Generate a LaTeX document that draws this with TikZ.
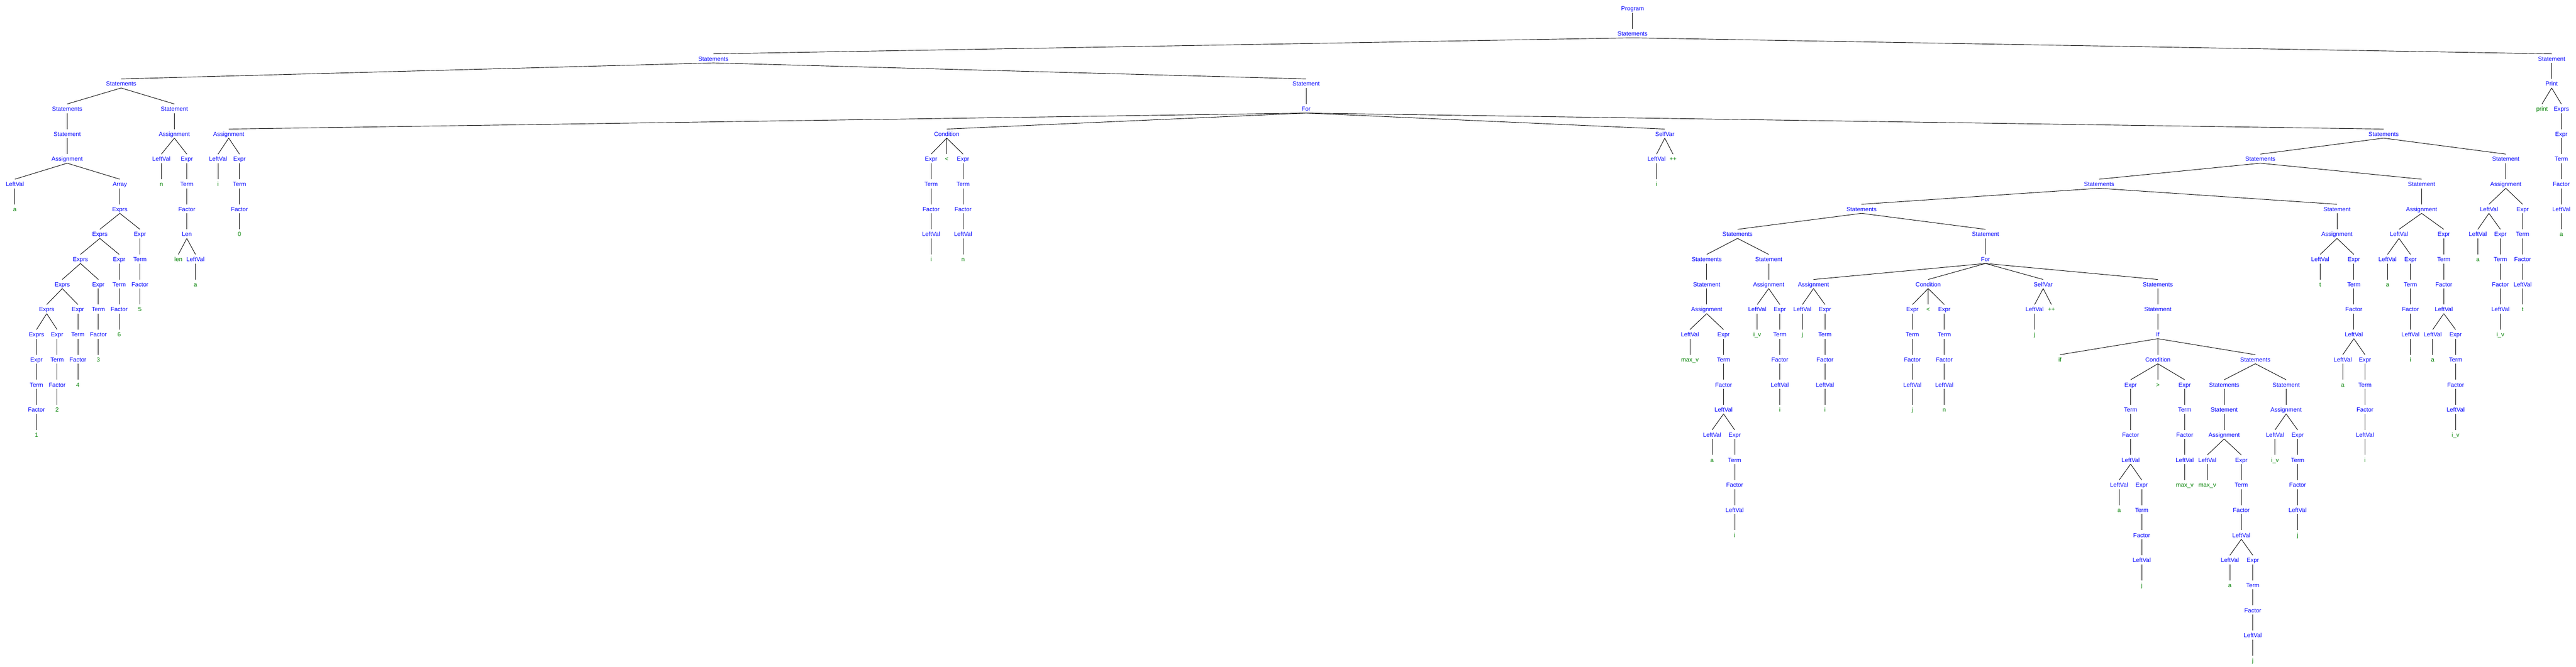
\documentclass[tikz,border=0pt]{standalone}
\usepackage{fontspec}
\setmainfont{Liberation Sans}
\definecolor{leafgreen}{RGB}{0,128,0}
\begin{document}
\begin{tikzpicture}[x=0.02cm, y=-1.4cm, line width=0.75pt,
  ntnode/.style={text=blue, inner sep=0pt, text height=0.38cm, text depth=0.1cm, font=\fontsize{9.45pt}{11pt}\selectfont},
  lfnode/.style={ntnode, text=leafgreen}]
\useasboundingbox (0,-0.3286) rectangle (7189,26.2714);
\node[ntnode] (pid0) at (4556,0){Program};
\node[ntnode] (pid1) at (4556,1){Statements};
\node[ntnode] (pid2) at (1991,2){Statements};
\node[ntnode] (pid3) at (338,3){Statements};
\node[ntnode] (pid4) at (187.5,4){Statements};
\node[ntnode] (pid5) at (187.5,5){Statement};
\node[ntnode] (pid6) at (187.5,6){Assignment};
\node[ntnode] (pid7) at (41.5,7){LeftVal};
\node[lfnode] (pid8) at (41.5,8){a};
\draw[](pid7.south) -- (pid8.north);
\node[ntnode] (pid9) at (334.4,7){Array};
\node[ntnode] (pid10) at (334.4,8){Exprs};
\node[ntnode] (pid11) at (278.6,9){Exprs};
\node[ntnode] (pid12) at (224.6,10){Exprs};
\node[ntnode] (pid13) at (173.7,11){Exprs};
\node[ntnode] (pid14) at (130.4,12){Exprs};
\node[ntnode] (pid15) at (101.8,13){Exprs};
\node[ntnode] (pid16) at (101.8,14){Expr};
\node[ntnode] (pid17) at (101.8,15){Term};
\node[ntnode] (pid18) at (101.8,16){Factor};
\node[lfnode] (pid19) at (101.8,17){1};
\draw[](pid15.south) -- (pid16.north);
\draw[](pid16.south) -- (pid17.north);
\draw[](pid17.south) -- (pid18.north);
\draw[](pid18.south) -- (pid19.north);
\node[ntnode] (pid20) at (159.4,13){Expr};
\node[ntnode] (pid21) at (159.4,14){Term};
\node[ntnode] (pid22) at (159.4,15){Factor};
\node[lfnode] (pid23) at (159.4,16){2};
\draw[](pid20.south) -- (pid21.north);
\draw[](pid21.south) -- (pid22.north);
\draw[](pid22.south) -- (pid23.north);
\draw[](pid14.south) -- (pid15.north);
\draw[](pid14.south) -- (pid20.north);
\node[ntnode] (pid24) at (217.4,12){Expr};
\node[ntnode] (pid25) at (217.4,13){Term};
\node[ntnode] (pid26) at (217.4,14){Factor};
\node[lfnode] (pid27) at (217.4,15){4};
\draw[](pid24.south) -- (pid25.north);
\draw[](pid25.south) -- (pid26.north);
\draw[](pid26.south) -- (pid27.north);
\draw[](pid13.south) -- (pid14.north);
\draw[](pid13.south) -- (pid24.north);
\node[ntnode] (pid28) at (274.5,11){Expr};
\node[ntnode] (pid29) at (274.5,12){Term};
\node[ntnode] (pid30) at (274.5,13){Factor};
\node[lfnode] (pid31) at (274.5,14){3};
\draw[](pid28.south) -- (pid29.north);
\draw[](pid29.south) -- (pid30.north);
\draw[](pid30.south) -- (pid31.north);
\draw[](pid12.south) -- (pid13.north);
\draw[](pid12.south) -- (pid28.north);
\node[ntnode] (pid32) at (332.6,10){Expr};
\node[ntnode] (pid33) at (332.6,11){Term};
\node[ntnode] (pid34) at (332.6,12){Factor};
\node[lfnode] (pid35) at (332.6,13){6};
\draw[](pid32.south) -- (pid33.north);
\draw[](pid33.south) -- (pid34.north);
\draw[](pid34.south) -- (pid35.north);
\draw[](pid11.south) -- (pid12.north);
\draw[](pid11.south) -- (pid32.north);
\node[ntnode] (pid36) at (390.6,9){Expr};
\node[ntnode] (pid37) at (390.6,10){Term};
\node[ntnode] (pid38) at (390.6,11){Factor};
\node[lfnode] (pid39) at (390.6,12){5};
\draw[](pid36.south) -- (pid37.north);
\draw[](pid37.south) -- (pid38.north);
\draw[](pid38.south) -- (pid39.north);
\draw[](pid10.south) -- (pid11.north);
\draw[](pid10.south) -- (pid36.north);
\draw[](pid9.south) -- (pid10.north);
\draw[](pid6.south) -- (pid7.north);
\draw[](pid6.south) -- (pid9.north);
\draw[](pid5.south) -- (pid6.north);
\draw[](pid4.south) -- (pid5.north);
\node[ntnode] (pid40) at (486.6,4){Statement};
\node[ntnode] (pid41) at (486.6,5){Assignment};
\node[ntnode] (pid42) at (450.4,6){LeftVal};
\node[lfnode] (pid43) at (450.4,7){n};
\draw[](pid42.south) -- (pid43.north);
\node[ntnode] (pid44) at (521.4,6){Expr};
\node[ntnode] (pid45) at (521.4,7){Term};
\node[ntnode] (pid46) at (521.4,8){Factor};
\node[ntnode] (pid47) at (521.4,9){Len};
\node[lfnode] (pid48) at (497.8,10){len};
\node[ntnode] (pid49) at (545.5,10){LeftVal};
\node[lfnode] (pid50) at (545.5,11){a};
\draw[](pid49.south) -- (pid50.north);
\draw[](pid47.south) -- (pid48.north);
\draw[](pid47.south) -- (pid49.north);
\draw[](pid46.south) -- (pid47.north);
\draw[](pid45.south) -- (pid46.north);
\draw[](pid44.south) -- (pid45.north);
\draw[](pid41.south) -- (pid42.north);
\draw[](pid41.south) -- (pid44.north);
\draw[](pid40.south) -- (pid41.north);
\draw[](pid3.south) -- (pid4.north);
\draw[](pid3.south) -- (pid40.north);
\node[ntnode] (pid51) at (3645,3){Statement};
\node[ntnode] (pid52) at (3645,4){For};
\node[ntnode] (pid53) at (638.4,5){Assignment};
\node[ntnode] (pid54) at (608.5,6){LeftVal};
\node[lfnode] (pid55) at (608.5,7){i};
\draw[](pid54.south) -- (pid55.north);
\node[ntnode] (pid56) at (668.3,6){Expr};
\node[ntnode] (pid57) at (668.3,7){Term};
\node[ntnode] (pid58) at (668.3,8){Factor};
\node[lfnode] (pid59) at (668.3,9){0};
\draw[](pid56.south) -- (pid57.north);
\draw[](pid57.south) -- (pid58.north);
\draw[](pid58.south) -- (pid59.north);
\draw[](pid53.south) -- (pid54.north);
\draw[](pid53.south) -- (pid56.north);
\node[ntnode] (pid60) at (2642,5){Condition};
\node[ntnode] (pid61) at (2598.5,6){Expr};
\node[ntnode] (pid62) at (2598.5,7){Term};
\node[ntnode] (pid63) at (2598.5,8){Factor};
\node[ntnode] (pid64) at (2598.5,9){LeftVal};
\node[lfnode] (pid65) at (2598.5,10){i};
\draw[](pid61.south) -- (pid62.north);
\draw[](pid62.south) -- (pid63.north);
\draw[](pid63.south) -- (pid64.north);
\draw[](pid64.south) -- (pid65.north);
\node[lfnode] (pid66) at (2642,6){<};
\node[ntnode] (pid67) at (2687.7,6){Expr};
\node[ntnode] (pid68) at (2687.7,7){Term};
\node[ntnode] (pid69) at (2687.7,8){Factor};
\node[ntnode] (pid70) at (2687.7,9){LeftVal};
\node[lfnode] (pid71) at (2687.7,10){n};
\draw[](pid67.south) -- (pid68.north);
\draw[](pid68.south) -- (pid69.north);
\draw[](pid69.south) -- (pid70.north);
\draw[](pid70.south) -- (pid71.north);
\draw[](pid60.south) -- (pid61.north);
\draw[](pid60.south) -- (pid66.north);
\draw[](pid60.south) -- (pid67.north);
\node[ntnode] (pid72) at (4646,5){SelfVar};
\node[ntnode] (pid73) at (4623,6){LeftVal};
\node[lfnode] (pid74) at (4623,7){i};
\node[lfnode] (pid75) at (4669,6){++};
\draw[](pid73.south) -- (pid74.north);
\draw[](pid72.south) -- (pid73.north);
\draw[](pid72.south) -- (pid75.north);
\node[ntnode] (pid76) at (6652,5){Statements};
\node[ntnode] (pid77) at (6308,6){Statements};
\node[ntnode] (pid78) at (5858,7){Statements};
\node[ntnode] (pid79) at (5195,8){Statements};
\node[ntnode] (pid80) at (4849,9){Statements};
\node[ntnode] (pid81) at (4763,10){Statements};
\node[ntnode] (pid82) at (4763,11){Statement};
\node[ntnode] (pid83) at (4763,12){Assignment};
\node[ntnode] (pid84) at (4716,13){LeftVal};
\node[lfnode] (pid85) at (4716,14){max\_v};
\draw[](pid84.south) -- (pid85.north);
\node[ntnode] (pid86) at (4810,13){Expr};
\node[ntnode] (pid87) at (4810,14){Term};
\node[ntnode] (pid88) at (4810,15){Factor};
\node[ntnode] (pid89) at (4810,16){LeftVal};
\node[ntnode] (pid90) at (4778,17){LeftVal};
\node[lfnode] (pid91) at (4778,18){a};
\draw[](pid90.south) -- (pid91.north);
\node[ntnode] (pid92) at (4841,17){Expr};
\node[ntnode] (pid93) at (4841,18){Term};
\node[ntnode] (pid94) at (4841,19){Factor};
\node[ntnode] (pid95) at (4841,20){LeftVal};
\node[lfnode] (pid96) at (4841,21){i};
\draw[](pid92.south) -- (pid93.north);
\draw[](pid93.south) -- (pid94.north);
\draw[](pid94.south) -- (pid95.north);
\draw[](pid95.south) -- (pid96.north);
\draw[](pid89.south) -- (pid90.north);
\draw[](pid89.south) -- (pid92.north);
\draw[](pid86.south) -- (pid87.north);
\draw[](pid87.south) -- (pid88.north);
\draw[](pid88.south) -- (pid89.north);
\draw[](pid83.south) -- (pid84.north);
\draw[](pid83.south) -- (pid86.north);
\draw[](pid82.south) -- (pid83.north);
\draw[](pid81.south) -- (pid82.north);
\node[ntnode] (pid97) at (4936,10){Statement};
\node[ntnode] (pid98) at (4936,11){Assignment};
\node[ntnode] (pid99) at (4904,12){LeftVal};
\node[lfnode] (pid100) at (4904,13){i\_v};
\draw[](pid99.south) -- (pid100.north);
\node[ntnode] (pid101) at (4967,12){Expr};
\node[ntnode] (pid102) at (4967,13){Term};
\node[ntnode] (pid103) at (4967,14){Factor};
\node[ntnode] (pid104) at (4967,15){LeftVal};
\node[lfnode] (pid105) at (4967,16){i};
\draw[](pid101.south) -- (pid102.north);
\draw[](pid102.south) -- (pid103.north);
\draw[](pid103.south) -- (pid104.north);
\draw[](pid104.south) -- (pid105.north);
\draw[](pid98.south) -- (pid99.north);
\draw[](pid98.south) -- (pid101.north);
\draw[](pid97.south) -- (pid98.north);
\draw[](pid80.south) -- (pid81.north);
\draw[](pid80.south) -- (pid97.north);
\node[ntnode] (pid106) at (5541,9){Statement};
\node[ntnode] (pid107) at (5541,10){For};
\node[ntnode] (pid108) at (5061,11){Assignment};
\node[ntnode] (pid109) at (5030,12){LeftVal};
\node[lfnode] (pid110) at (5030,13){j};
\draw[](pid109.south) -- (pid110.north);
\node[ntnode] (pid111) at (5093,12){Expr};
\node[ntnode] (pid112) at (5093,13){Term};
\node[ntnode] (pid113) at (5093,14){Factor};
\node[ntnode] (pid114) at (5093,15){LeftVal};
\node[lfnode] (pid115) at (5093,16){i};
\draw[](pid111.south) -- (pid112.north);
\draw[](pid112.south) -- (pid113.north);
\draw[](pid113.south) -- (pid114.north);
\draw[](pid114.south) -- (pid115.north);
\draw[](pid108.south) -- (pid109.north);
\draw[](pid108.south) -- (pid111.north);
\node[ntnode] (pid116) at (5381,11){Condition};
\node[ntnode] (pid117) at (5337,12){Expr};
\node[ntnode] (pid118) at (5337,13){Term};
\node[ntnode] (pid119) at (5337,14){Factor};
\node[ntnode] (pid120) at (5337,15){LeftVal};
\node[lfnode] (pid121) at (5337,16){j};
\draw[](pid117.south) -- (pid118.north);
\draw[](pid118.south) -- (pid119.north);
\draw[](pid119.south) -- (pid120.north);
\draw[](pid120.south) -- (pid121.north);
\node[lfnode] (pid122) at (5381,12){<};
\node[ntnode] (pid123) at (5426,12){Expr};
\node[ntnode] (pid124) at (5426,13){Term};
\node[ntnode] (pid125) at (5426,14){Factor};
\node[ntnode] (pid126) at (5426,15){LeftVal};
\node[lfnode] (pid127) at (5426,16){n};
\draw[](pid123.south) -- (pid124.north);
\draw[](pid124.south) -- (pid125.north);
\draw[](pid125.south) -- (pid126.north);
\draw[](pid126.south) -- (pid127.north);
\draw[](pid116.south) -- (pid117.north);
\draw[](pid116.south) -- (pid122.north);
\draw[](pid116.south) -- (pid123.north);
\node[ntnode] (pid128) at (5702,11){SelfVar};
\node[ntnode] (pid129) at (5678,12){LeftVal};
\node[lfnode] (pid130) at (5678,13){j};
\node[lfnode] (pid131) at (5725,12){++};
\draw[](pid129.south) -- (pid130.north);
\draw[](pid128.south) -- (pid129.north);
\draw[](pid128.south) -- (pid131.north);
\node[ntnode] (pid132) at (6022,11){Statements};
\node[ntnode] (pid133) at (6022,12){Statement};
\node[ntnode] (pid134) at (6022,13){If};
\node[lfnode] (pid135) at (5749,14){if};
\node[ntnode] (pid136) at (6022,14){Condition};
\node[ntnode] (pid137) at (5946,15){Expr};
\node[ntnode] (pid138) at (5946,16){Term};
\node[ntnode] (pid139) at (5946,17){Factor};
\node[ntnode] (pid140) at (5946,18){LeftVal};
\node[ntnode] (pid141) at (5914,19){LeftVal};
\node[lfnode] (pid142) at (5914,20){a};
\draw[](pid141.south) -- (pid142.north);
\node[ntnode] (pid143) at (5977,19){Expr};
\node[ntnode] (pid144) at (5977,20){Term};
\node[ntnode] (pid145) at (5977,21){Factor};
\node[ntnode] (pid146) at (5977,22){LeftVal};
\node[lfnode] (pid147) at (5977,23){j};
\draw[](pid143.south) -- (pid144.north);
\draw[](pid144.south) -- (pid145.north);
\draw[](pid145.south) -- (pid146.north);
\draw[](pid146.south) -- (pid147.north);
\draw[](pid140.south) -- (pid141.north);
\draw[](pid140.south) -- (pid143.north);
\draw[](pid137.south) -- (pid138.north);
\draw[](pid138.south) -- (pid139.north);
\draw[](pid139.south) -- (pid140.north);
\node[lfnode] (pid148) at (6022,15){>};
\node[ntnode] (pid149) at (6097,15){Expr};
\node[ntnode] (pid150) at (6097,16){Term};
\node[ntnode] (pid151) at (6097,17){Factor};
\node[ntnode] (pid152) at (6097,18){LeftVal};
\node[lfnode] (pid153) at (6097,19){max\_v};
\draw[](pid149.south) -- (pid150.north);
\draw[](pid150.south) -- (pid151.north);
\draw[](pid151.south) -- (pid152.north);
\draw[](pid152.south) -- (pid153.north);
\draw[](pid136.south) -- (pid137.north);
\draw[](pid136.south) -- (pid148.north);
\draw[](pid136.south) -- (pid149.north);
\node[ntnode] (pid154) at (6294,14){Statements};
\node[ntnode] (pid155) at (6207,15){Statements};
\node[ntnode] (pid156) at (6207,16){Statement};
\node[ntnode] (pid157) at (6207,17){Assignment};
\node[ntnode] (pid158) at (6160,18){LeftVal};
\node[lfnode] (pid159) at (6160,19){max\_v};
\draw[](pid158.south) -- (pid159.north);
\node[ntnode] (pid160) at (6255,18){Expr};
\node[ntnode] (pid161) at (6255,19){Term};
\node[ntnode] (pid162) at (6255,20){Factor};
\node[ntnode] (pid163) at (6255,21){LeftVal};
\node[ntnode] (pid164) at (6223,22){LeftVal};
\node[lfnode] (pid165) at (6223,23){a};
\draw[](pid164.south) -- (pid165.north);
\node[ntnode] (pid166) at (6287,22){Expr};
\node[ntnode] (pid167) at (6287,23){Term};
\node[ntnode] (pid168) at (6287,24){Factor};
\node[ntnode] (pid169) at (6287,25){LeftVal};
\node[lfnode] (pid170) at (6287,26){j};
\draw[](pid166.south) -- (pid167.north);
\draw[](pid167.south) -- (pid168.north);
\draw[](pid168.south) -- (pid169.north);
\draw[](pid169.south) -- (pid170.north);
\draw[](pid163.south) -- (pid164.north);
\draw[](pid163.south) -- (pid166.north);
\draw[](pid160.south) -- (pid161.north);
\draw[](pid161.south) -- (pid162.north);
\draw[](pid162.south) -- (pid163.north);
\draw[](pid157.south) -- (pid158.north);
\draw[](pid157.south) -- (pid160.north);
\draw[](pid156.south) -- (pid157.north);
\draw[](pid155.south) -- (pid156.north);
\node[ntnode] (pid171) at (6380,15){Statement};
\node[ntnode] (pid172) at (6380,16){Assignment};
\node[ntnode] (pid173) at (6349,17){LeftVal};
\node[lfnode] (pid174) at (6349,18){i\_v};
\draw[](pid173.south) -- (pid174.north);
\node[ntnode] (pid175) at (6412,17){Expr};
\node[ntnode] (pid176) at (6412,18){Term};
\node[ntnode] (pid177) at (6412,19){Factor};
\node[ntnode] (pid178) at (6412,20){LeftVal};
\node[lfnode] (pid179) at (6412,21){j};
\draw[](pid175.south) -- (pid176.north);
\draw[](pid176.south) -- (pid177.north);
\draw[](pid177.south) -- (pid178.north);
\draw[](pid178.south) -- (pid179.north);
\draw[](pid172.south) -- (pid173.north);
\draw[](pid172.south) -- (pid175.north);
\draw[](pid171.south) -- (pid172.north);
\draw[](pid154.south) -- (pid155.north);
\draw[](pid154.south) -- (pid171.north);
\draw[](pid134.south) -- (pid135.north);
\draw[](pid134.south) -- (pid136.north);
\draw[](pid134.south) -- (pid154.north);
\draw[](pid133.south) -- (pid134.north);
\draw[](pid132.south) -- (pid133.north);
\draw[](pid107.south) -- (pid108.north);
\draw[](pid107.south) -- (pid116.north);
\draw[](pid107.south) -- (pid128.north);
\draw[](pid107.south) -- (pid132.north);
\draw[](pid106.south) -- (pid107.north);
\draw[](pid79.south) -- (pid80.north);
\draw[](pid79.south) -- (pid106.north);
\node[ntnode] (pid180) at (6522,8){Statement};
\node[ntnode] (pid181) at (6522,9){Assignment};
\node[ntnode] (pid182) at (6475,10){LeftVal};
\node[lfnode] (pid183) at (6475,11){t};
\draw[](pid182.south) -- (pid183.north);
\node[ntnode] (pid184) at (6569,10){Expr};
\node[ntnode] (pid185) at (6569,11){Term};
\node[ntnode] (pid186) at (6569,12){Factor};
\node[ntnode] (pid187) at (6569,13){LeftVal};
\node[ntnode] (pid188) at (6538,14){LeftVal};
\node[lfnode] (pid189) at (6538,15){a};
\draw[](pid188.south) -- (pid189.north);
\node[ntnode] (pid190) at (6600,14){Expr};
\node[ntnode] (pid191) at (6600,15){Term};
\node[ntnode] (pid192) at (6600,16){Factor};
\node[ntnode] (pid193) at (6600,17){LeftVal};
\node[lfnode] (pid194) at (6600,18){i};
\draw[](pid190.south) -- (pid191.north);
\draw[](pid191.south) -- (pid192.north);
\draw[](pid192.south) -- (pid193.north);
\draw[](pid193.south) -- (pid194.north);
\draw[](pid187.south) -- (pid188.north);
\draw[](pid187.south) -- (pid190.north);
\draw[](pid184.south) -- (pid185.north);
\draw[](pid185.south) -- (pid186.north);
\draw[](pid186.south) -- (pid187.north);
\draw[](pid181.south) -- (pid182.north);
\draw[](pid181.south) -- (pid184.north);
\draw[](pid180.south) -- (pid181.north);
\draw[](pid78.south) -- (pid79.north);
\draw[](pid78.south) -- (pid180.north);
\node[ntnode] (pid195) at (6758,7){Statement};
\node[ntnode] (pid196) at (6758,8){Assignment};
\node[ntnode] (pid197) at (6695,9){LeftVal};
\node[ntnode] (pid198) at (6663,10){LeftVal};
\node[lfnode] (pid199) at (6663,11){a};
\draw[](pid198.south) -- (pid199.north);
\node[ntnode] (pid200) at (6727,10){Expr};
\node[ntnode] (pid201) at (6727,11){Term};
\node[ntnode] (pid202) at (6727,12){Factor};
\node[ntnode] (pid203) at (6727,13){LeftVal};
\node[lfnode] (pid204) at (6727,14){i};
\draw[](pid200.south) -- (pid201.north);
\draw[](pid201.south) -- (pid202.north);
\draw[](pid202.south) -- (pid203.north);
\draw[](pid203.south) -- (pid204.north);
\draw[](pid197.south) -- (pid198.north);
\draw[](pid197.south) -- (pid200.north);
\node[ntnode] (pid205) at (6820,9){Expr};
\node[ntnode] (pid206) at (6820,10){Term};
\node[ntnode] (pid207) at (6820,11){Factor};
\node[ntnode] (pid208) at (6820,12){LeftVal};
\node[ntnode] (pid209) at (6789,13){LeftVal};
\node[lfnode] (pid210) at (6789,14){a};
\draw[](pid209.south) -- (pid210.north);
\node[ntnode] (pid211) at (6853,13){Expr};
\node[ntnode] (pid212) at (6853,14){Term};
\node[ntnode] (pid213) at (6853,15){Factor};
\node[ntnode] (pid214) at (6853,16){LeftVal};
\node[lfnode] (pid215) at (6853,17){i\_v};
\draw[](pid211.south) -- (pid212.north);
\draw[](pid212.south) -- (pid213.north);
\draw[](pid213.south) -- (pid214.north);
\draw[](pid214.south) -- (pid215.north);
\draw[](pid208.south) -- (pid209.north);
\draw[](pid208.south) -- (pid211.north);
\draw[](pid205.south) -- (pid206.north);
\draw[](pid206.south) -- (pid207.north);
\draw[](pid207.south) -- (pid208.north);
\draw[](pid196.south) -- (pid197.north);
\draw[](pid196.south) -- (pid205.north);
\draw[](pid195.south) -- (pid196.north);
\draw[](pid77.south) -- (pid78.north);
\draw[](pid77.south) -- (pid195.north);
\node[ntnode] (pid216) at (6993,6){Statement};
\node[ntnode] (pid217) at (6993,7){Assignment};
\node[ntnode] (pid218) at (6946,8){LeftVal};
\node[ntnode] (pid219) at (6915,9){LeftVal};
\node[lfnode] (pid220) at (6915,10){a};
\draw[](pid219.south) -- (pid220.north);
\node[ntnode] (pid221) at (6978,9){Expr};
\node[ntnode] (pid222) at (6978,10){Term};
\node[ntnode] (pid223) at (6978,11){Factor};
\node[ntnode] (pid224) at (6978,12){LeftVal};
\node[lfnode] (pid225) at (6978,13){i\_v};
\draw[](pid221.south) -- (pid222.north);
\draw[](pid222.south) -- (pid223.north);
\draw[](pid223.south) -- (pid224.north);
\draw[](pid224.south) -- (pid225.north);
\draw[](pid218.south) -- (pid219.north);
\draw[](pid218.south) -- (pid221.north);
\node[ntnode] (pid226) at (7040,8){Expr};
\node[ntnode] (pid227) at (7040,9){Term};
\node[ntnode] (pid228) at (7040,10){Factor};
\node[ntnode] (pid229) at (7040,11){LeftVal};
\node[lfnode] (pid230) at (7040,12){t};
\draw[](pid226.south) -- (pid227.north);
\draw[](pid227.south) -- (pid228.north);
\draw[](pid228.south) -- (pid229.north);
\draw[](pid229.south) -- (pid230.north);
\draw[](pid217.south) -- (pid218.north);
\draw[](pid217.south) -- (pid226.north);
\draw[](pid216.south) -- (pid217.north);
\draw[](pid76.south) -- (pid77.north);
\draw[](pid76.south) -- (pid216.north);
\draw[](pid52.south) -- (pid53.north);
\draw[](pid52.south) -- (pid60.north);
\draw[](pid52.south) -- (pid72.north);
\draw[](pid52.south) -- (pid76.north);
\draw[](pid51.south) -- (pid52.north);
\draw[](pid2.south) -- (pid3.north);
\draw[](pid2.south) -- (pid51.north);
\node[ntnode] (pid231) at (7121,2){Statement};
\node[ntnode] (pid232) at (7121,3){Print};
\node[lfnode] (pid233) at (7094,4){print};
\node[ntnode] (pid234) at (7148,4){Exprs};
\node[ntnode] (pid235) at (7148,5){Expr};
\node[ntnode] (pid236) at (7148,6){Term};
\node[ntnode] (pid237) at (7148,7){Factor};
\node[ntnode] (pid238) at (7148,8){LeftVal};
\node[lfnode] (pid239) at (7148,9){a};
\draw[](pid234.south) -- (pid235.north);
\draw[](pid235.south) -- (pid236.north);
\draw[](pid236.south) -- (pid237.north);
\draw[](pid237.south) -- (pid238.north);
\draw[](pid238.south) -- (pid239.north);
\draw[](pid232.south) -- (pid233.north);
\draw[](pid232.south) -- (pid234.north);
\draw[](pid231.south) -- (pid232.north);
\draw[](pid1.south) -- (pid2.north);
\draw[](pid1.south) -- (pid231.north);
\draw[](pid0.south) -- (pid1.north);
\end{tikzpicture}
\end{document}
